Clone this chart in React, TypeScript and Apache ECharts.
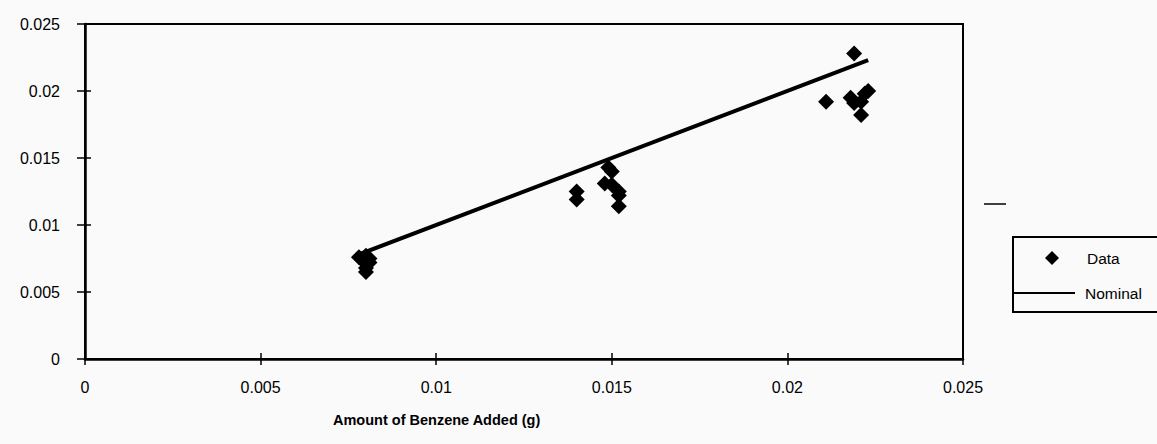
import React, { useEffect, useRef } from "react";
import * as echarts from "echarts";

const xTicks = [0, 0.005, 0.01, 0.015, 0.02, 0.025];
const yTicks = [0, 0.005, 0.01, 0.015, 0.02, 0.025];

const dataX = [
  0.0078, 0.008, 0.0081, 0.008, 0.008, 0.008, 0.0081,
  0.0140, 0.0140, 0.0149, 0.0150, 0.0148, 0.0150, 0.0152, 0.0152, 0.0152,
  0.0219, 0.0211, 0.0218, 0.0219, 0.0222, 0.0223, 0.0221, 0.0221,
];
const dataY = [
  0.0076, 0.0077, 0.0075, 0.0071, 0.0068, 0.0065, 0.0072,
  0.0125, 0.0119, 0.0143, 0.0140, 0.0131, 0.0130, 0.0125, 0.0122, 0.0114,
  0.0228, 0.0192, 0.0195, 0.0191, 0.0198, 0.0200, 0.0192, 0.0182,
];
const nominalX = [0.0078, 0.0223];
const nominalY = [0.0078, 0.0223];

const fmt = (v: number) => String(parseFloat(v.toFixed(4)));

export default function App() {
  const ref = useRef<HTMLDivElement>(null);
  useEffect(() => {
    if (!ref.current) return;
    const chart = echarts.init(ref.current, null, { renderer: "svg" });
    const font = "'Liberation Sans', Arial, sans-serif";
    const scatterData = dataX.map((x, i) => [x, dataY[i]]);
    const lineData = nominalX.map((x, i) => [x, nominalY[i]]);
    const axisCommon = {
      type: "value" as const,
      min: xTicks[0],
      max: xTicks[xTicks.length - 1],
      interval: 0.005,
      splitLine: { show: false },
    };
    const yCommon = {
      type: "value" as const,
      min: yTicks[0],
      max: yTicks[yTicks.length - 1],
      interval: 0.005,
      splitLine: { show: false },
    };
    const legendText = { fontFamily: font, fontSize: 15.5, color: "#000" };
    chart.setOption({
      animation: false,
      backgroundColor: "#fafafa",
      textStyle: { fontFamily: font },
      grid: { left: 85, right: 194, top: 24, bottom: 85, show: true, borderColor: "#000", borderWidth: 2, backgroundColor: "transparent" },
      title: {
        text: "Amount of Benzene Added (g)",
        left: 333,
        top: 412,
        padding: 0,
        textStyle: { fontFamily: font, fontSize: 14.5, fontWeight: "bold", color: "#000" },
      },
      xAxis: [
        {
          ...axisCommon,
          position: "bottom",
          axisLine: { show: true, onZero: false, lineStyle: { color: "#000", width: 2.5 } },
          axisTick: { show: true, inside: false, length: 6, lineStyle: { color: "#000", width: 1.5 } },
          axisLabel: { show: true, margin: 20, fontSize: 16, color: "#000", fontFamily: font, formatter: (v: number) => fmt(v) },
        },
        {
          ...axisCommon,
          position: "bottom",
          axisLine: { show: false },
          axisTick: { show: true, inside: true, length: 6, lineStyle: { color: "#000", width: 1.5 } },
          axisLabel: { show: false },
        },
      ],
      yAxis: [
        {
          ...yCommon,
          position: "left",
          axisLine: { show: true, onZero: false, lineStyle: { color: "#000", width: 2.5 } },
          axisTick: { show: true, inside: false, length: 8, lineStyle: { color: "#000", width: 1.5 } },
          axisLabel: { show: true, margin: 25, fontSize: 16, color: "#000", fontFamily: font, formatter: (v: number) => fmt(v) },
        },
        {
          ...yCommon,
          position: "left",
          axisLine: { show: false },
          axisTick: { show: true, inside: true, length: 6, lineStyle: { color: "#000", width: 1.5 } },
          axisLabel: { show: false },
        },
      ],
      legend: [
        {
          orient: "vertical",
          left: 1045,
          top: 250,
          padding: 0,
          itemWidth: 14,
          itemHeight: 14,
          textStyle: { ...legendText, padding: [0, 0, 0, 23] },
          data: [{ name: "Data", icon: "diamond", itemStyle: { color: "#000", opacity: 1 } }],
        },
        {
          orient: "vertical",
          left: 1013,
          top: 285,
          padding: 0,
          itemWidth: 62,
          itemHeight: 2,
          textStyle: { ...legendText, padding: [0, 0, 0, 5] },
          data: [{ name: "Nominal", icon: "rect", itemStyle: { color: "#000" } }],
        },
      ],
      graphic: [
        {
          type: "rect",
          shape: { x: 1013, y: 237, width: 200, height: 75 },
          style: { fill: "none", stroke: "#000", lineWidth: 2 },
          z: 10,
        },
        {
          type: "line",
          shape: { x1: 984, y1: 204, x2: 1006, y2: 204 },
          style: { stroke: "#000", lineWidth: 1.5 },
        },
      ],
      series: [
        {
          name: "Data",
          type: "scatter",
          symbol: "diamond",
          symbolSize: 16,
          itemStyle: { color: "#000", opacity: 1 },
          data: scatterData,
          z: 3,
        },
        {
          name: "Nominal",
          type: "line",
          symbol: "none",
          lineStyle: { color: "#000", width: 4 },
          itemStyle: { color: "#000" },
          data: lineData,
          z: 2,
        },
      ],
    });
    return () => chart.dispose();
  }, []);
  return (
    <div
      ref={ref}
      style={{ position: "fixed", left: 0, top: 0, width: 1157, height: 444 }}
    />
  );
}
